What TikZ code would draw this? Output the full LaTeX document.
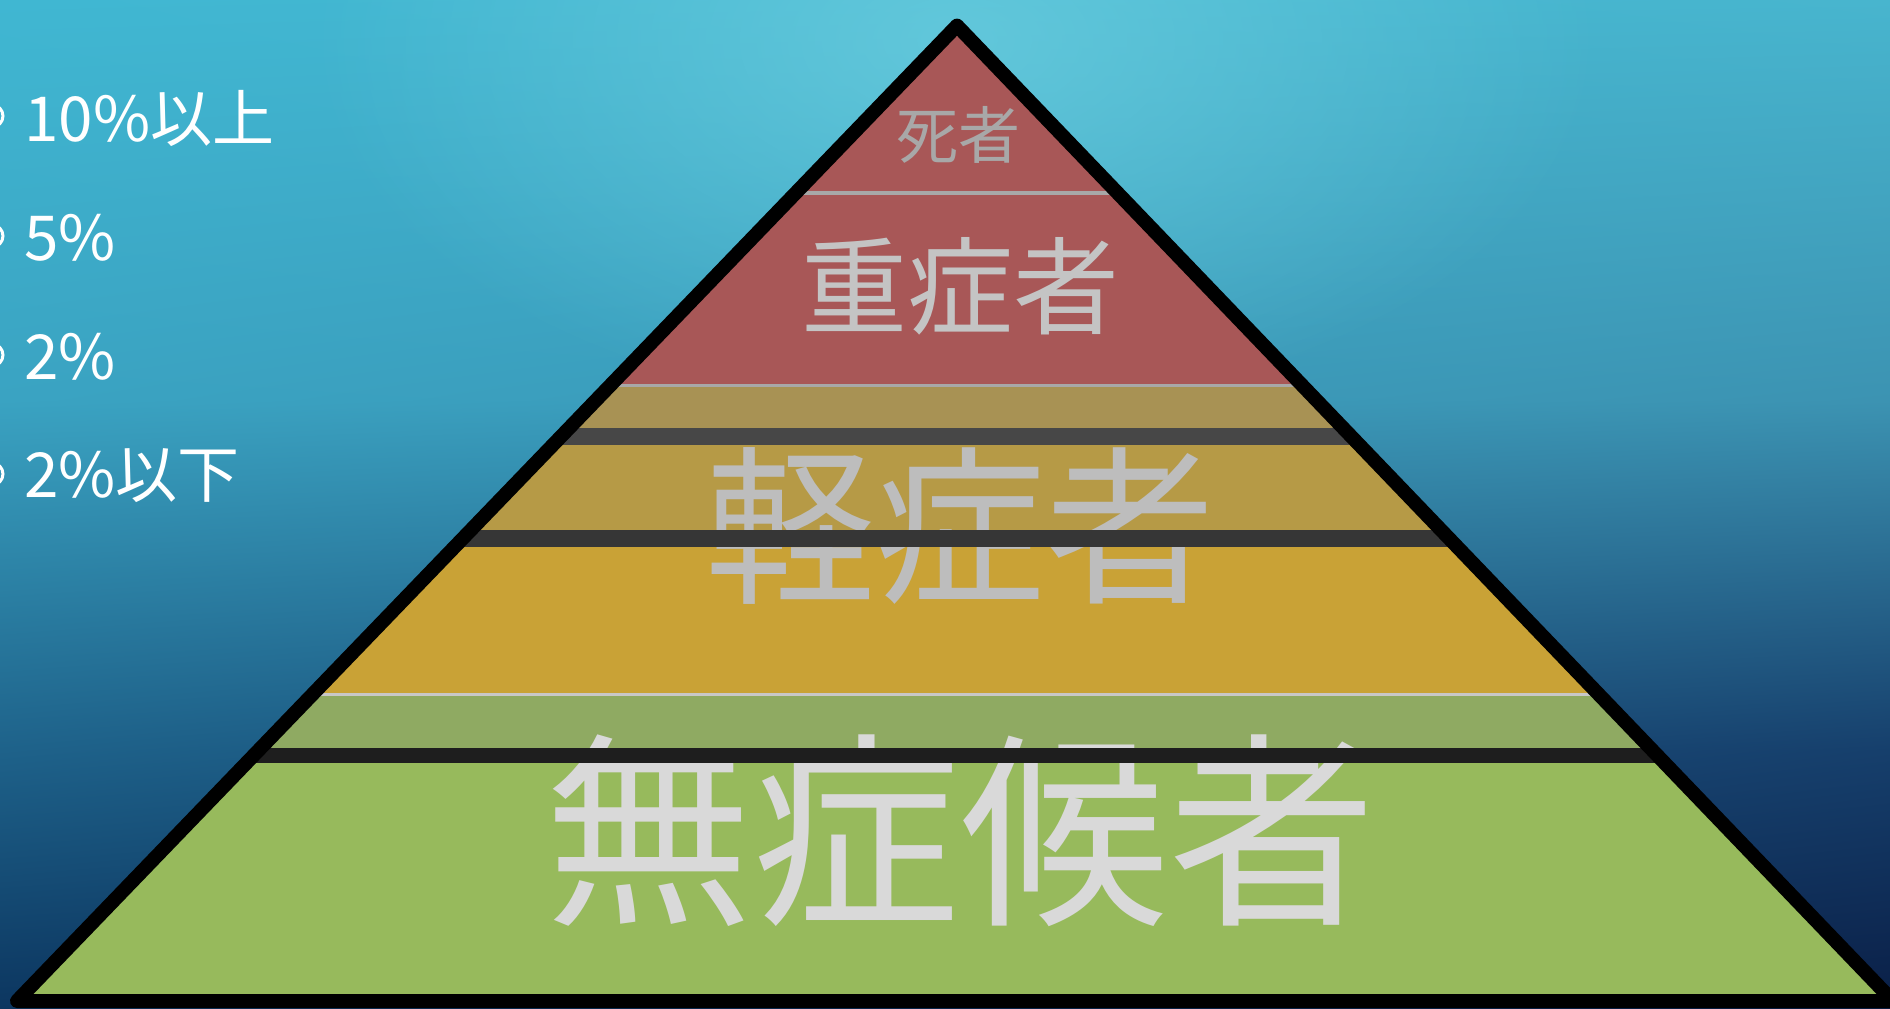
\documentclass[tikz,border=0pt]{standalone}
\usepackage{fontspec}
\setmainfont{Noto Sans CJK JP}
\usetikzlibrary{fadings,shadings}
\definecolor{bgTL}{HTML}{40B7D2}
\definecolor{bgTR}{HTML}{48B5CE}
\definecolor{bgML}{HTML}{3AA3C2}
\definecolor{bgMR}{HTML}{3C93B2}
\definecolor{bgLL}{HTML}{1E628A}
\definecolor{bgLR}{HTML}{163F6C}
\definecolor{bgBL}{HTML}{0C3660}
\definecolor{bgBR}{HTML}{0A1F47}
\definecolor{glow}{HTML}{6CCEDF}
\definecolor{bandRed}{HTML}{A85757}
\definecolor{bandTan}{HTML}{A89254}
\definecolor{bandGold}{HTML}{B69A46}
\definecolor{bandYellow}{HTML}{C9A236}
\definecolor{bandOlive}{HTML}{8FAA62}
\definecolor{bandGreen}{HTML}{97BA5C}
\definecolor{barA}{HTML}{474747}
\definecolor{barB}{HTML}{363636}
\definecolor{barC}{HTML}{1E1E1E}
\definecolor{sepA}{HTML}{A8A8A8}
\definecolor{sepB}{HTML}{C8C8C8}
\definecolor{txtA}{HTML}{A8A8A8}
\definecolor{txtB}{HTML}{C4C4C4}
\definecolor{txtC}{HTML}{BDBDBD}
\definecolor{txtD}{HTML}{D9D9D9}
\tikzfading[name=glowfade, inner color=transparent!25, outer color=transparent!100]
\begin{document}
\begin{tikzpicture}[x=0.5pt,y=-0.5pt,
  lbl/.style={anchor=base west, inner sep=0pt, text=white, font=\fontsize{31}{34}\selectfont},
  bullet/.style={draw=white, line width=1.5pt},
  level/.style={anchor=center, inner sep=0pt},
  outline/.style={draw=black, line width=7pt, line join=round}]
\useasboundingbox (0,0) rectangle (1890,1008);
% background
\shade[upper left=bgTL, upper right=bgTR, lower left=bgML, lower right=bgMR] (0,0) rectangle (1890,400);
\shade[upper left=bgML, upper right=bgMR, lower left=bgLL, lower right=bgLR] (0,400) rectangle (1890,750);
\shade[upper left=bgLL, upper right=bgLR, lower left=bgBL, lower right=bgBR] (0,750) rectangle (1890,1008);
\fill[glow, path fading=glowfade] (957,40) ellipse [x radius=650, y radius=380];
% pyramid coordinates
\coordinate (apex) at (957,25.6);
\coordinate (bl) at (17,1001);
\coordinate (br) at (1893,1001);
% bands
\begin{scope}
\clip (apex) -- (bl) -- (br) -- cycle;
\fill[bandRed] (0,0) rectangle (1890,387);
\fill[bandTan] (0,387) rectangle (1890,428);
\fill[bandGold] (0,428) rectangle (1890,530);
\fill[bandYellow] (0,530) rectangle (1890,693);
\fill[bandOlive] (0,693) rectangle (1890,748);
\fill[bandGreen] (0,748) rectangle (1890,1008);
\fill[sepA] (0,191) rectangle (1890,195);
\fill[sepA] (0,383.5) rectangle (1890,387);
\fill[sepB] (0,693) rectangle (1890,696);
\end{scope}
% level texts
\node[level, text=txtA, font=\fontsize{31}{34}\selectfont] (shisha) at (958,135) {死者};
\node[level, text=txtB, font=\fontsize{53}{58}\selectfont] (jusho) at (960,286) {重症者};
\node[level, text=txtC, font=\fontsize{85}{92}\selectfont] (keisho) at (960,526) {軽症者};
\node[level, text=txtD, font=\fontsize{104}{112}\selectfont] (mushojo) at (960,831) {無症候者};
% dark bars
\begin{scope}
\clip (apex) -- (bl) -- (br) -- cycle;
\fill[barA] (0,428) rectangle (1890,445);
\fill[barB] (0,530) rectangle (1890,547);
\fill[barC] (0,748) rectangle (1890,763);
\end{scope}
% outline
\draw[outline] (apex) -- (bl) -- (br) -- cycle;
% left labels
\draw[bullet] (-8,116) circle [radius=11];
\draw[bullet] (-8,236) circle [radius=11];
\draw[bullet] (-8,355) circle [radius=11];
\draw[bullet] (-8,474) circle [radius=11];
\node[lbl] (p10) at (24,141) {10\%以上};
\node[lbl] (p5) at (24,260) {5\%};
\node[lbl] (p2) at (24,379) {2\%};
\node[lbl] (p2l) at (24,497) {2\%以下};
\end{tikzpicture}
\end{document}
